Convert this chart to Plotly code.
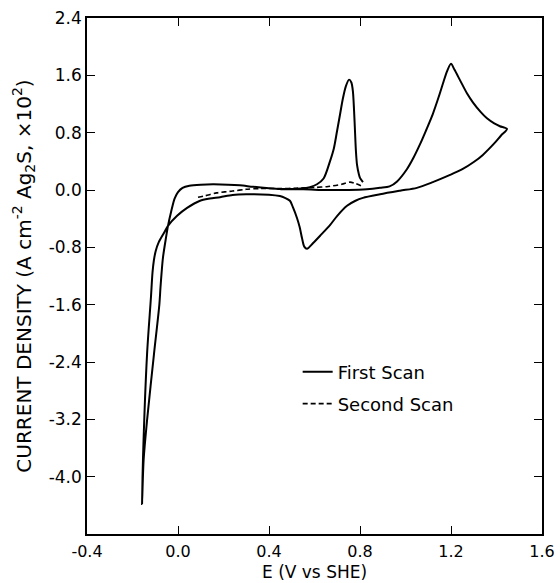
import plotly.graph_objects as go

# ---- data ----
first_E = [0.45, 0.55, 0.65, 0.75, 0.83, 0.888, 0.93, 0.963, 1.006, 1.035, 1.064,
           1.09, 1.12, 1.145, 1.165, 1.183, 1.20, 1.215, 1.24, 1.27, 1.297, 1.33, 1.358,
           1.39, 1.415, 1.446,
           1.42, 1.39, 1.34, 1.30, 1.25, 1.196, 1.12, 1.05, 0.976, 0.888, 0.813, 0.78,
           0.743, 0.70, 0.668, 0.63, 0.594, 0.567, 0.555, 0.545, 0.535, 0.523, 0.505,
           0.492, 0.47, 0.448, 0.40, 0.30, 0.24, 0.185, 0.14, 0.097, 0.04, -0.004,
           -0.044, -0.062, -0.085, -0.098, -0.106, -0.112, -0.119, -0.136, -0.154,
           -0.158,
           -0.151, -0.1356, -0.1056, -0.082, -0.077, -0.072, -0.066, -0.053, -0.044,
           -0.03, -0.015, 0.0, 0.02, 0.05, 0.10, 0.154, 0.22, 0.272, 0.33,
           0.40, 0.45, 0.50, 0.54, 0.58, 0.611, 0.64, 0.668, 0.685, 0.699, 0.712, 0.725,
           0.738, 0.752, 0.762, 0.769, 0.774, 0.778, 0.782, 0.787, 0.795, 0.80, 0.813]
first_I = [0.01, 0.01, 0.0, 0.0, 0.01, 0.03, 0.05, 0.12, 0.29, 0.45, 0.64,
           0.83, 1.06, 1.29, 1.49, 1.66, 1.76, 1.68, 1.53, 1.35, 1.22, 1.09, 1.0,
           0.93, 0.89, 0.85,
           0.76, 0.65, 0.49, 0.39, 0.29, 0.21, 0.11, 0.03, -0.01, -0.06, -0.11, -0.15,
           -0.22, -0.36, -0.49, -0.62, -0.74, -0.82, -0.79, -0.67, -0.52, -0.39, -0.24,
           -0.15, -0.11, -0.085, -0.065, -0.06, -0.07, -0.10, -0.12, -0.15, -0.25, -0.36,
           -0.50, -0.60, -0.73, -0.85, -0.98, -1.15, -1.50, -2.29, -3.76,
           -4.38,
           -3.76, -3.2, -2.29, -1.6, -1.36, -1.15, -0.94, -0.67, -0.50,
           -0.30, -0.12, -0.03, 0.03, 0.06, 0.075, 0.08, 0.075, 0.065, 0.045,
           0.025, 0.015, 0.015, 0.02, 0.04, 0.08, 0.16, 0.40, 0.58, 0.82, 1.05, 1.28,
           1.45, 1.54, 1.50, 1.37, 1.10, 0.82, 0.55, 0.35, 0.22, 0.17, 0.11]

second_E = [0.088, 0.12, 0.17, 0.24, 0.30, 0.36, 0.45, 0.52, 0.60, 0.66, 0.72, 0.756,
            0.78, 0.81]
second_I = [-0.10, -0.08, -0.04, -0.015, 0.01, 0.02, 0.02, 0.025, 0.035, 0.05, 0.08,
            0.11, 0.09, 0.05]

x_ticks = [-0.4, 0.0, 0.4, 0.8, 1.2, 1.6]
x_labels = ["-0.4", "0.0", "0.4", "0.8", "1.2", "1.6"]
y_ticks = [-4.0, -3.2, -2.4, -1.6, -0.8, 0.0, 0.8, 1.6, 2.4]
y_labels = ["-4.0", "-3.2", "-2.4", "-1.6", "-0.8", "0.0", "0.8", "1.6", "2.4"]

FONT = "DejaVu Sans"

fig = go.Figure()
fig.add_trace(go.Scatter(x=first_E, y=first_I, mode="lines", name="First Scan",
                         showlegend=True,
                         line=dict(color="black", width=2, shape="spline", smoothing=0.8),
                         legend="legend"))
fig.add_trace(go.Scatter(x=second_E, y=second_I, mode="lines", name="Second Scan",
                         showlegend=True,
                         line=dict(color="black", width=1.6, dash="5px,3px",
                                   shape="spline", smoothing=0.8),
                         legend="legend2"))

axis_common = dict(showline=True, linecolor="black", linewidth=1.5, mirror="ticks",
                   ticks="inside", ticklen=8, tickwidth=1.2, tickcolor="black",
                   showgrid=False, zeroline=False, automargin=False)

fig.update_layout(
    width=560, height=583,
    margin=dict(l=87, r=18, t=18, b=49),
    paper_bgcolor="white", plot_bgcolor="white",
    showlegend=True,
    font=dict(family=FONT, color="black"),
    xaxis=dict(range=[-0.4, 1.6], tickvals=x_ticks, ticktext=x_labels,
               ticklabelstandoff=2,
               tickfont=dict(family=FONT, size=16, color="black"),
               **axis_common),
    yaxis=dict(range=[-4.8, 2.4], tickvals=y_ticks, ticktext=y_labels,
               tickfont=dict(family=FONT, size=17, color="black"),
               title=dict(text="CURRENT DENSITY (A cm<sup>-2</sup> Ag<sub>2</sub>S, \u00d710<sup>2</sup>)",
                          font=dict(family=FONT, size=20), standoff=12),
               **axis_common),
    annotations=[dict(text="E (V vs SHE)", xref="paper", yref="paper",
                      x=0.5, y=-0.074, xanchor="center", yanchor="middle",
                      showarrow=False, font=dict(family=FONT, size=17, color="black"))],
    legend=dict(x=0.463, y=0.314, xanchor="left", yanchor="middle",
                bgcolor="rgba(0,0,0,0)", font=dict(family=FONT, size=18)),
    legend2=dict(x=0.463, y=0.252, xanchor="left", yanchor="middle",
                 bgcolor="rgba(0,0,0,0)", font=dict(family=FONT, size=18)),
)

fig.write_html("out.html")
